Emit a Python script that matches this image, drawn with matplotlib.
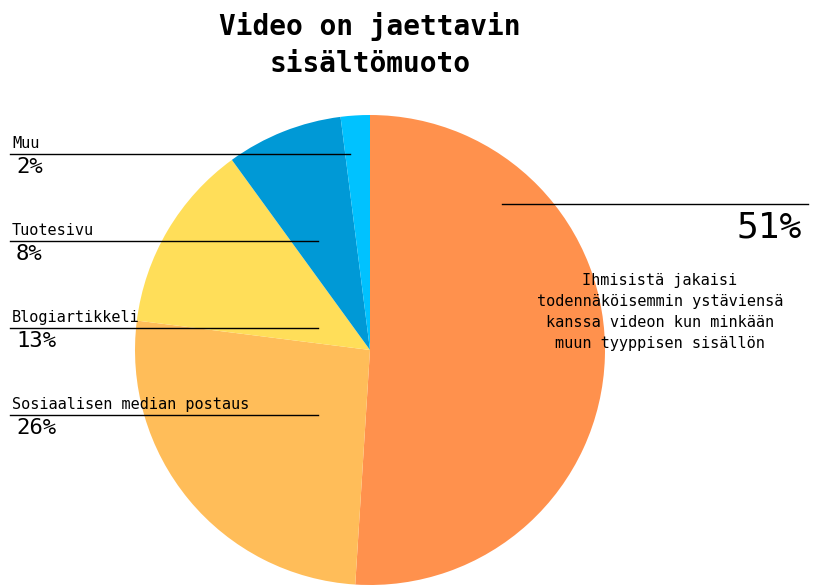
import matplotlib.pyplot as plt
from matplotlib.lines import Line2D

# data
labels = ['51%', 'Sosiaalisen median postaus', 'Blogiartikkeli', 'Tuotesivu', 'Muu']
values = [51, 26, 13, 8, 2]
colors = ['#FF914D', '#FFBD59', '#FFDE59', '#0099D6', '#00C2FF']
pcts = ['51%', '26%', '13%', '8%', '2%']

W, H = 823, 586
fig = plt.figure(figsize=(W / 100, H / 100), dpi=100)
mono = 'DejaVu Sans Mono'

def fx(x):
    return x / W

def fy(y):
    return 1 - y / H

ax = fig.add_axes([fx(135), fy(585), 470 / W, 470 / H])
ax.pie(values, colors=colors, startangle=90, counterclock=False)
ax.set_xlim(-1, 1)
ax.set_ylim(-1, 1)
ax.set_aspect('equal')

fig.text(fx(370), fy(45), 'Video on jaettavin\nsisältömuoto', ha='center', va='center',
         fontsize=20, fontweight='bold', family=mono, linespacing=1.4)

# left labels: (text, pct, line y, line x end)
left = [('Muu', pcts[4], 154, 350),
        ('Tuotesivu', pcts[3], 241, 318),
        ('Blogiartikkeli', pcts[2], 328, 318),
        ('Sosiaalisen median postaus', pcts[1], 415, 318)]
for name, p, ly, xe in left:
    fig.add_artist(Line2D([fx(10), fx(xe)], [fy(ly), fy(ly)], color='black', lw=1))
    fig.text(fx(12), fy(ly - 3), name, ha='left', va='bottom', fontsize=11, family=mono)
    fig.text(fx(16), fy(ly + 3), p, ha='left', va='top', fontsize=16, family=mono)

# right label
fig.add_artist(Line2D([fx(502), fx(808)], [fy(204), fy(204)], color='black', lw=1))
fig.text(fx(802), fy(210), pcts[0], ha='right', va='top', fontsize=26, family=mono)
fig.text(fx(660), fy(312), 'Ihmisistä jakaisi\ntodennäköisemmin ystäviensä\nkanssa videon kun minkään\nmuun tyyppisen sisällön',
         ha='center', va='center', fontsize=11, family=mono, linespacing=1.5)

fig.savefig('out.png', dpi=100)
